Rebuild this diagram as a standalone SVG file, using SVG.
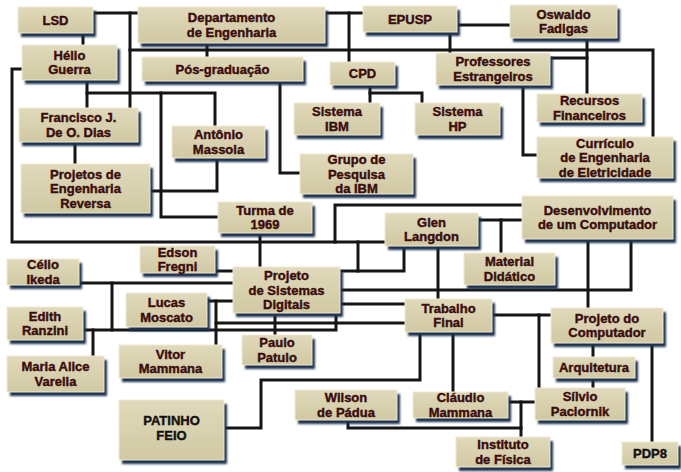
<svg xmlns="http://www.w3.org/2000/svg" width="681" height="472" viewBox="0 0 681 472">
<style>
.bg{fill:#ffffff}
.ln{fill:none;stroke:#151515;stroke-width:3;stroke-linejoin:miter;stroke-linecap:square}
.sh{fill:#1d3050;filter:url(#blur)}
.box{fill:url(#g);stroke:#efe9d2;stroke-width:1}
text{font-family:"Liberation Sans",Arial,sans-serif;font-weight:bold;font-size:13px;fill:#3a0c0c;stroke:#3a0c0c;stroke-width:0.4;text-anchor:middle}
text.blk{fill:#111111;stroke:#111111}
</style>
<defs>
<linearGradient id="g" x1="0" y1="0" x2="0" y2="1">
<stop offset="0" stop-color="#e0d9bb"/>
<stop offset="1" stop-color="#d1c9a3"/>
</linearGradient>
<filter id="blur" x="-10%" y="-20%" width="120%" height="140%"><feGaussianBlur stdDeviation="1"/></filter>
</defs>
<rect class="bg" x="0" y="0" width="681" height="472"/>
<g id="connectors">
<path class="ln" d="M93,13 H138"/>
<path class="ln" d="M130,13 V108"/>
<path class="ln" d="M130,50 H653 V137"/>
<path class="ln" d="M207,43 V57"/>
<path class="ln" d="M83,33 V45"/>
<path class="ln" d="M325,13 H363"/>
<path class="ln" d="M349,13 V62"/>
<path class="ln" d="M457,25 H510"/>
<path class="ln" d="M450,32 V53"/>
<path class="ln" d="M587,38 V94"/>
<path class="ln" d="M550,58 H587"/>
<path class="ln" d="M523,85 V155 H537"/>
<path class="ln" d="M370,85 V103"/>
<path class="ln" d="M370,93 H422 V103"/>
<path class="ln" d="M280,81 V173 H300"/>
<path class="ln" d="M22,69 H12 V242 H385"/>
<path class="ln" d="M260,233 V267"/>
<path class="ln" d="M522,205 H335 V242"/>
<path class="ln" d="M358,242 V271"/>
<path class="ln" d="M340,271 H404 V246"/>
<path class="ln" d="M478,220 H522"/>
<path class="ln" d="M501,220 V253"/>
<path class="ln" d="M438,246 V299"/>
<path class="ln" d="M340,290 H631 V239"/>
<path class="ln" d="M588,239 V308"/>
<path class="ln" d="M340,304 H405"/>
<path class="ln" d="M216,323 H405"/>
<path class="ln" d="M83,330 H336 V313"/>
<path class="ln" d="M275,313 V335"/>
<path class="ln" d="M87,80 V108"/>
<path class="ln" d="M87,93 H215 V126"/>
<path class="ln" d="M161,93 V217 H218"/>
<path class="ln" d="M75,142 V164"/>
<path class="ln" d="M150,191 H217 V158"/>
<path class="ln" d="M215,271 H233"/>
<path class="ln" d="M79,283 H233"/>
<path class="ln" d="M112,283 V330"/>
<path class="ln" d="M207,301 H233"/>
<path class="ln" d="M216,301 V345"/>
<path class="ln" d="M93,330 V356"/>
<path class="ln" d="M492,315 H551"/>
<path class="ln" d="M539,315 V388"/>
<path class="ln" d="M453,332 V392"/>
<path class="ln" d="M420,332 V380 H261 V428 H224"/>
<path class="ln" d="M348,420 V428 H521"/>
<path class="ln" d="M508,402 H535"/>
<path class="ln" d="M521,402 V437"/>
<path class="ln" d="M593,343 V357"/>
<path class="ln" d="M593,378 V388"/>
<path class="ln" d="M652,343 V442"/>
</g>
<g id="n-lsd"><rect class="sh" x="21" y="11" width="75" height="26"/><rect class="box" x="18" y="7" width="75" height="26"/><text x="55.5" y="24.6">LSD</text></g>
<g id="n-departamento"><rect class="sh" x="141" y="11" width="187" height="36"/><rect class="box" x="138" y="7" width="187" height="36"/><text x="231.5" y="22.4">Departamento<tspan x="231.5" dy="14.5">de Engenharia</tspan></text></g>
<g id="n-epusp"><rect class="sh" x="366" y="10" width="94" height="26"/><rect class="box" x="363" y="6" width="94" height="26"/><text x="410" y="23.6">EPUSP</text></g>
<g id="n-oswaldo"><rect class="sh" x="513" y="9" width="107" height="33"/><rect class="box" x="510" y="5" width="107" height="33"/><text x="563.5" y="18.9">Oswaldo<tspan x="563.5" dy="14.5">Fadigas</tspan></text></g>
<g id="n-helio"><rect class="sh" x="25" y="49" width="95" height="35"/><rect class="box" x="22" y="45" width="95" height="35"/><text x="69.5" y="59.9">Hélio<tspan x="69.5" dy="14.5">Guerra</tspan></text></g>
<g id="n-posgrad"><rect class="sh" x="145" y="61" width="161" height="24"/><rect class="box" x="142" y="57" width="161" height="24"/><text x="222.5" y="73.6">Pós-graduação</text></g>
<g id="n-cpd"><rect class="sh" x="333" y="66" width="65" height="23"/><rect class="box" x="330" y="62" width="65" height="23"/><text x="362.5" y="78.1">CPD</text></g>
<g id="n-professores"><rect class="sh" x="439" y="57" width="114" height="32"/><rect class="box" x="436" y="53" width="114" height="32"/><text x="493" y="66.4">Professores<tspan x="493" dy="14.5">Estrangeiros</tspan></text></g>
<g id="n-sisibm"><rect class="sh" x="297" y="107" width="86" height="32"/><rect class="box" x="294" y="103" width="86" height="32"/><text x="337" y="116.4">Sistema<tspan x="337" dy="14.5">IBM</tspan></text></g>
<g id="n-sishp"><rect class="sh" x="418" y="107" width="85" height="32"/><rect class="box" x="415" y="103" width="85" height="32"/><text x="457.5" y="116.4">Sistema<tspan x="457.5" dy="14.5">HP</tspan></text></g>
<g id="n-recursos"><rect class="sh" x="540" y="98" width="105" height="28"/><rect class="box" x="537" y="94" width="105" height="28"/><text x="589.5" y="105.4">Recursos<tspan x="589.5" dy="14.5">Financeiros</tspan></text></g>
<g id="n-curriculo"><rect class="sh" x="540" y="141" width="136" height="41"/><rect class="box" x="537" y="137" width="136" height="41"/><text x="605" y="147.6">Currículo<tspan x="605" dy="14.5">de Engenharia</tspan><tspan x="605" dy="14.5">de Eletricidade</tspan></text></g>
<g id="n-francisco"><rect class="sh" x="22" y="112" width="119" height="34"/><rect class="box" x="19" y="108" width="119" height="34"/><text x="78.5" y="122.4">Francisco J.<tspan x="78.5" dy="14.5">De O. Dias</tspan></text></g>
<g id="n-antonio"><rect class="sh" x="175" y="130" width="93" height="32"/><rect class="box" x="172" y="126" width="93" height="32"/><text x="218.5" y="139.4">Antônio<tspan x="218.5" dy="14.5">Massola</tspan></text></g>
<g id="n-grupo"><rect class="sh" x="303" y="158" width="113" height="40"/><rect class="box" x="300" y="154" width="113" height="40"/><text x="356.5" y="164.1">Grupo de<tspan x="356.5" dy="14.5">Pesquisa</tspan><tspan x="356.5" dy="14.5">da IBM</tspan></text></g>
<g id="n-projetos"><rect class="sh" x="24" y="168" width="129" height="49"/><rect class="box" x="21" y="164" width="129" height="49"/><text x="85.5" y="178.6">Projetos de<tspan x="85.5" dy="14.5">Engenharia</tspan><tspan x="85.5" dy="14.5">Reversa</tspan></text></g>
<g id="n-turma"><rect class="sh" x="221" y="206" width="94" height="31"/><rect class="box" x="218" y="202" width="94" height="31"/><text x="265" y="214.9">Turma de<tspan x="265" dy="14.5">1969</tspan></text></g>
<g id="n-glen"><rect class="sh" x="388" y="217" width="93" height="33"/><rect class="box" x="385" y="213" width="93" height="33"/><text x="431.5" y="226.9">Glen<tspan x="431.5" dy="14.5">Langdon</tspan></text></g>
<g id="n-desenv"><rect class="sh" x="525" y="200" width="151" height="43"/><rect class="box" x="522" y="196" width="151" height="43"/><text x="597.5" y="214.9">Desenvolvimento<tspan x="597.5" dy="14.5">de um Computador</tspan></text></g>
<g id="n-material"><rect class="sh" x="467" y="257" width="91" height="32"/><rect class="box" x="464" y="253" width="91" height="32"/><text x="509.5" y="266.4">Material<tspan x="509.5" dy="14.5">Didático</tspan></text></g>
<g id="n-edson"><rect class="sh" x="143" y="250" width="75" height="27"/><rect class="box" x="140" y="246" width="75" height="27"/><text x="177.5" y="256.9">Edson<tspan x="177.5" dy="14.5">Fregni</tspan></text></g>
<g id="n-celio"><rect class="sh" x="10" y="263" width="72" height="26"/><rect class="box" x="7" y="259" width="72" height="26"/><text x="43" y="269.4">Célio<tspan x="43" dy="14.5">Ikeda</tspan></text></g>
<g id="n-projsd"><rect class="sh" x="236" y="271" width="107" height="46"/><rect class="box" x="233" y="267" width="107" height="46"/><text x="286.5" y="280.1">Projeto<tspan x="286.5" dy="14.5">de Sistemas</tspan><tspan x="286.5" dy="14.5">Digitais</tspan></text></g>
<g id="n-lucas"><rect class="sh" x="129" y="297" width="81" height="34"/><rect class="box" x="126" y="293" width="81" height="34"/><text x="166.5" y="307.4">Lucas<tspan x="166.5" dy="14.5">Moscato</tspan></text></g>
<g id="n-edith"><rect class="sh" x="10" y="311" width="76" height="33"/><rect class="box" x="7" y="307" width="76" height="33"/><text x="45" y="320.9">Edith<tspan x="45" dy="14.5">Ranzini</tspan></text></g>
<g id="n-trabalho"><rect class="sh" x="408" y="303" width="87" height="33"/><rect class="box" x="405" y="299" width="87" height="33"/><text x="448.5" y="312.9">Trabalho<tspan x="448.5" dy="14.5">Final</tspan></text></g>
<g id="n-projcomp"><rect class="sh" x="554" y="312" width="112" height="35"/><rect class="box" x="551" y="308" width="112" height="35"/><text x="607" y="322.9">Projeto do<tspan x="607" dy="14.5">Computador</tspan></text></g>
<g id="n-maria"><rect class="sh" x="10" y="360" width="97" height="36"/><rect class="box" x="7" y="356" width="97" height="36"/><text x="55.5" y="371.4">Maria Alice<tspan x="55.5" dy="14.5">Varella</tspan></text></g>
<g id="n-vitor"><rect class="sh" x="122" y="349" width="103" height="33"/><rect class="box" x="119" y="345" width="103" height="33"/><text x="170.5" y="358.9">Vitor<tspan x="170.5" dy="14.5">Mammana</tspan></text></g>
<g id="n-paulo"><rect class="sh" x="245" y="339" width="70" height="30"/><rect class="box" x="242" y="335" width="70" height="30"/><text x="277" y="347.4">Paulo<tspan x="277" dy="14.5">Patulo</tspan></text></g>
<g id="n-arquitetura"><rect class="sh" x="556" y="361" width="82" height="21"/><rect class="box" x="553" y="357" width="82" height="21"/><text x="594" y="372.1">Arquitetura</text></g>
<g id="n-patinho"><rect class="sh" x="122" y="404" width="105" height="60"/><rect class="box" x="119" y="400" width="105" height="60"/><text class="blk" x="171.5" y="425.4">PATINHO<tspan x="171.5" dy="14.5">FEIO</tspan></text></g>
<g id="n-wilson"><rect class="sh" x="298" y="394" width="102" height="30"/><rect class="box" x="295" y="390" width="102" height="30"/><text x="346" y="402.4">Wilson<tspan x="346" dy="14.5">de Pádua</tspan></text></g>
<g id="n-claudio"><rect class="sh" x="416" y="396" width="95" height="26"/><rect class="box" x="413" y="392" width="95" height="26"/><text x="460.5" y="402.4">Cláudio<tspan x="460.5" dy="14.5">Mammana</tspan></text></g>
<g id="n-silvio"><rect class="sh" x="538" y="392" width="90" height="32"/><rect class="box" x="535" y="388" width="90" height="32"/><text x="580" y="401.4">Sílvio<tspan x="580" dy="14.5">Paciornik</tspan></text></g>
<g id="n-instituto"><rect class="sh" x="459" y="441" width="94" height="30"/><rect class="box" x="456" y="437" width="94" height="30"/><text x="503" y="449.4">Instituto<tspan x="503" dy="14.5">de Física</tspan></text></g>
<g id="n-pdp8"><rect class="sh" x="625" y="446" width="56" height="23"/><rect class="box" x="622" y="442" width="56" height="23"/><text class="blk" x="650" y="458.1">PDP8</text></g>
</svg>
